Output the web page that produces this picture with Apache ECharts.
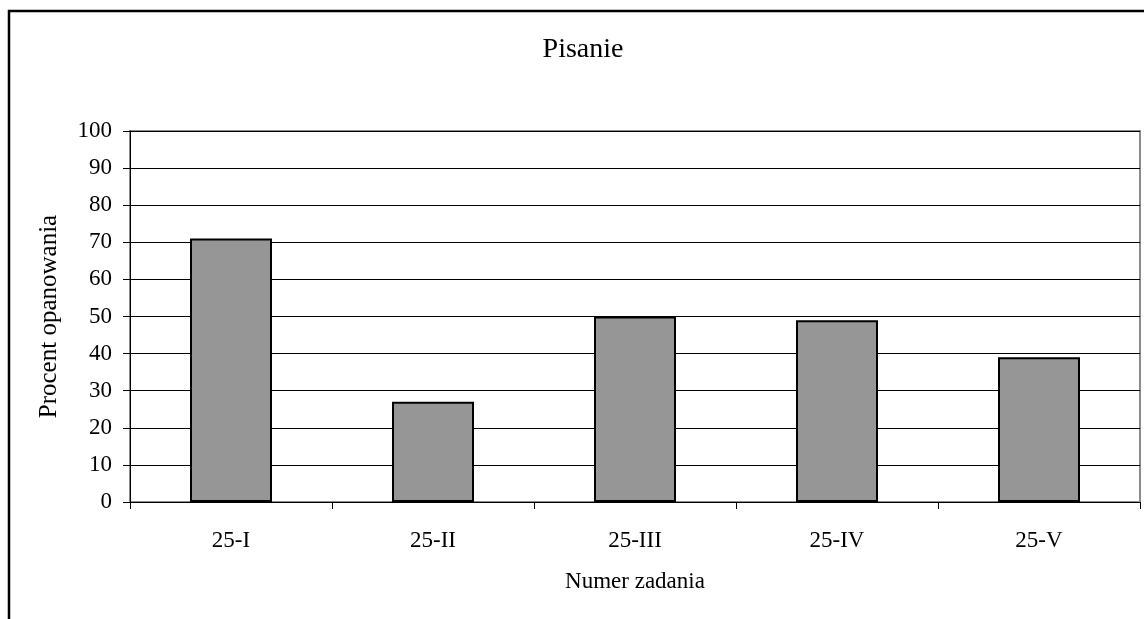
<!DOCTYPE html>
<html>
<head>
<meta charset="utf-8">
<script src="https://cdn.jsdelivr.net/npm/echarts@6/dist/echarts.min.js"></script>
<style>
html,body{margin:0;padding:0;background:#fff;}
#chart{width:1144px;height:619px;}
</style>
</head>
<body>
<div id="chart"></div>
<script>
var categories = ['25-I', '25-II', '25-III', '25-IV', '25-V'];
var values = [71, 27, 50, 49, 39];
var titleText = 'Pisanie';
var xName = 'Numer zadania';
var yName = 'Procent opanowania';

var FONT = '"Liberation Serif", "Times New Roman", serif';
var chart = echarts.init(document.getElementById('chart'), null, {renderer: 'canvas'});
chart.setOption({
  backgroundColor: '#fff',
  animation: false,
  grid: {
    left: 130, right: 4, top: 131, bottom: 117,
    show: true, borderColor: '#8c8c8c', borderWidth: 2, backgroundColor: 'transparent'
  },
  graphic: [
    {
      type: 'polyline', z: 100,
      shape: {points: [[9, 619], [9, 11], [1144, 11]]},
      style: {stroke: '#000', lineWidth: 2.5, fill: null}
    },
    {
      type: 'text', x: 583, y: 36, z: 100,
      style: {text: titleText, font: '28px ' + FONT, fill: '#000', textAlign: 'center', textVerticalAlign: 'top'}
    }
  ],
  xAxis: {
    type: 'category',
    data: categories,
    boundaryGap: true,
    name: xName,
    nameLocation: 'middle',
    nameGap: 68,
    nameTextStyle: {fontFamily: FONT, fontSize: 23, color: '#000', verticalAlign: 'top'},
    axisLine: {lineStyle: {color: '#000', width: 1}},
    axisTick: {show: true, length: 7, inside: false, lineStyle: {color: '#000'}},
    axisLabel: {fontFamily: FONT, fontSize: 23, color: '#000', margin: 27},
    splitLine: {show: false}
  },
  yAxis: {
    type: 'value',
    min: 0, max: 100, interval: 10,
    name: yName,
    nameLocation: 'middle',
    nameGap: 68,
    nameRotate: 90,
    nameTextStyle: {fontFamily: FONT, fontSize: 25, color: '#000'},
    axisLine: {show: true, lineStyle: {color: '#000', width: 1}},
    axisTick: {show: true, length: 7, inside: false, lineStyle: {color: '#000'}},
    axisLabel: {fontFamily: FONT, fontSize: 23, color: '#000', margin: 18},
    splitLine: {show: true, lineStyle: {color: '#000', width: 1}}
  },
  series: [{
    type: 'bar',
    data: values,
    barWidth: 82,
    itemStyle: {color: '#969696', borderColor: '#000', borderWidth: 2}
  }]
});
</script>
</body>
</html>
